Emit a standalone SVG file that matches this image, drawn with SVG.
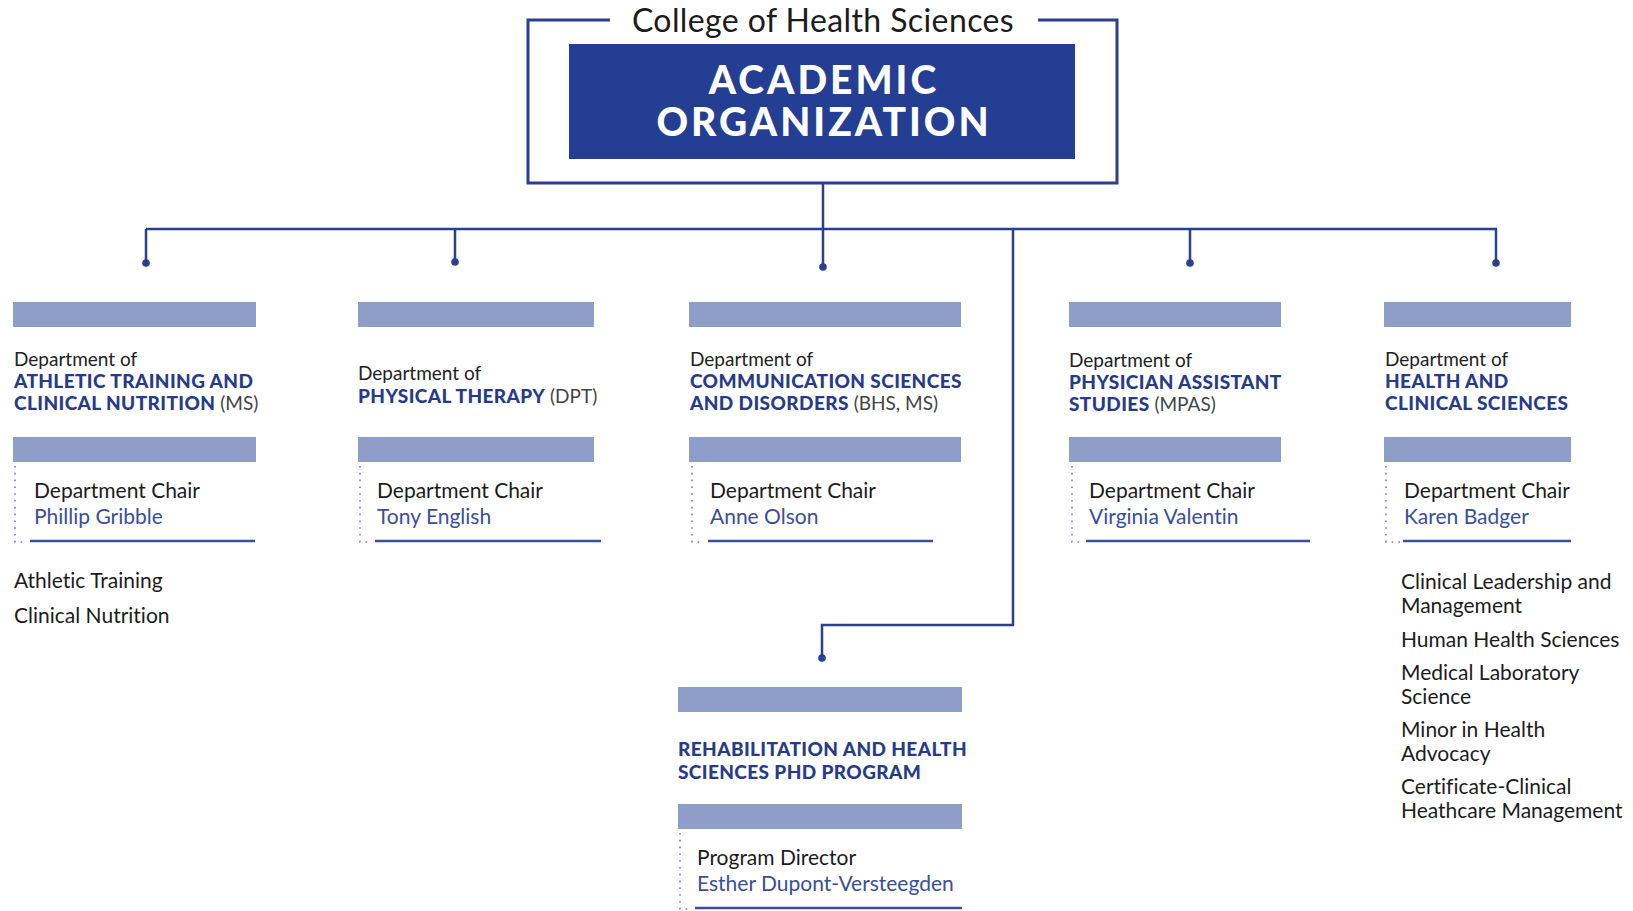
<svg xmlns="http://www.w3.org/2000/svg" width="1633" height="911" viewBox="0 0 1633 911">
<style>
.bg{fill:#ffffff}
.bar{fill:#8f9dc9}
.link{stroke:#2a3f8f;stroke-width:2.5;fill:none}
.dot{fill:#2a3f8f}
.frame{stroke:#2a3f8f;stroke-width:3;fill:none}
.dotted{stroke:#6f7fb0;stroke-width:1.6;stroke-dasharray:1.6 5.2;fill:none}
.uline{stroke:#3a4e9c;stroke-width:2.5}
text{font-family:Lato,"Liberation Sans",sans-serif;font-variant-ligatures:none;font-feature-settings:"liga" 0}
.dept{font-size:19px;fill:#222222}
.b{font-weight:900;fill:#263b8c;letter-spacing:0.4px}
.p{font-weight:400;fill:#444444;letter-spacing:0}
.role{font-size:21px;fill:#1c1c1c}
.name{font-size:21px;fill:#3a4e9c}
.item{font-size:21px;fill:#1c1c1c}
.title{font-size:32px;fill:#1c1c1c;letter-spacing:0.4px}
.big{font-size:39px;font-weight:900;fill:#ffffff;letter-spacing:3px}
</style>
<rect class="bg" x="0" y="0" width="1633" height="911"/>

<g id="header">
<path class="frame" d="M610,20 H528 V183 H1117 V20 H1038"/>
<text class="title" x="823" y="32" text-anchor="middle">College of Health Sciences</text>
<rect x="569" y="44" width="506" height="115" fill="#233e92"/>
<text class="big" x="824" y="94" text-anchor="middle">ACADEMIC</text>
<text class="big" x="824" y="136" text-anchor="middle">ORGANIZATION</text>
</g>

<g id="connectors">
<path class="link" d="M823,183 V229"/>
<path class="link" d="M146,229 H1497"/>
<path class="link" d="M146,229 V263"/>
<path class="link" d="M455,229 V262"/>
<path class="link" d="M823,229 V267"/>
<path class="link" d="M1190,229 V263"/>
<path class="link" d="M1496,229 V263"/>
<path class="link" d="M1013,229 V625 H822 V658"/>
<circle class="dot" cx="146" cy="263" r="3.8"/>
<circle class="dot" cx="455" cy="262" r="3.8"/>
<circle class="dot" cx="823" cy="267" r="3.8"/>
<circle class="dot" cx="1190" cy="263" r="3.8"/>
<circle class="dot" cx="1496" cy="263" r="3.8"/>
<circle class="dot" cx="822" cy="658" r="3.8"/>
</g>

<g id="dept-athletic">
<rect class="bar" x="13" y="302" width="243" height="25"/>
<text class="dept" x="14" y="366">Department of</text>
<text class="dept b" x="14" y="388">ATHLETIC TRAINING AND</text>
<text class="dept" x="14" y="410"><tspan class="b">CLINICAL NUTRITION</tspan><tspan class="p"> (MS)</tspan></text>
<rect class="bar" x="13" y="437" width="243" height="25"/>
<path class="dotted" d="M15,466 V542 H27"/>
<line class="uline" x1="30" y1="541" x2="255" y2="541"/>
<text class="role" x="34" y="498">Department Chair</text>
<text class="name" x="34" y="524">Phillip Gribble</text>
<text class="item" x="14" y="588">Athletic Training</text>
<text class="item" x="14" y="623">Clinical Nutrition</text>
</g>

<g id="dept-pt">
<rect class="bar" x="358" y="302" width="236" height="25"/>
<text class="dept" x="358" y="380">Department of</text>
<text class="dept" x="358" y="403"><tspan class="b">PHYSICAL THERAPY</tspan><tspan class="p"> (DPT)</tspan></text>
<rect class="bar" x="358" y="437" width="236" height="25"/>
<path class="dotted" d="M360,466 V542 H372"/>
<line class="uline" x1="375" y1="541" x2="601" y2="541"/>
<text class="role" x="377" y="498">Department Chair</text>
<text class="name" x="377" y="524">Tony English</text>
</g>

<g id="dept-csd">
<rect class="bar" x="689" y="302" width="272" height="25"/>
<text class="dept" x="690" y="366">Department of</text>
<text class="dept b" x="690" y="388">COMMUNICATION SCIENCES</text>
<text class="dept" x="690" y="410"><tspan class="b">AND DISORDERS</tspan><tspan class="p"> (BHS, MS)</tspan></text>
<rect class="bar" x="689" y="437" width="272" height="25"/>
<path class="dotted" d="M692,466 V542 H704"/>
<line class="uline" x1="708" y1="541" x2="933" y2="541"/>
<text class="role" x="710" y="498">Department Chair</text>
<text class="name" x="710" y="524">Anne Olson</text>
</g>

<g id="dept-pa">
<rect class="bar" x="1069" y="302" width="212" height="25"/>
<text class="dept" x="1069" y="367">Department of</text>
<text class="dept b" x="1069" y="389">PHYSICIAN ASSISTANT</text>
<text class="dept" x="1069" y="411"><tspan class="b">STUDIES</tspan><tspan class="p"> (MPAS)</tspan></text>
<rect class="bar" x="1069" y="437" width="212" height="25"/>
<path class="dotted" d="M1072,466 V542 H1083"/>
<line class="uline" x1="1086" y1="541" x2="1310" y2="541"/>
<text class="role" x="1089" y="498">Department Chair</text>
<text class="name" x="1089" y="524">Virginia Valentin</text>
</g>

<g id="dept-hcs">
<rect class="bar" x="1384" y="302" width="187" height="25"/>
<text class="dept" x="1385" y="366">Department of</text>
<text class="dept b" x="1385" y="388">HEALTH AND</text>
<text class="dept b" x="1385" y="410">CLINICAL SCIENCES</text>
<rect class="bar" x="1384" y="437" width="187" height="25"/>
<path class="dotted" d="M1386,466 V542 H1400"/>
<line class="uline" x1="1403" y1="541" x2="1571" y2="541"/>
<text class="role" x="1404" y="498">Department Chair</text>
<text class="name" x="1404" y="524">Karen Badger</text>
<text class="item" x="1401" y="589">Clinical Leadership and</text>
<text class="item" x="1401" y="613">Management</text>
<text class="item" x="1401" y="647">Human Health Sciences</text>
<text class="item" x="1401" y="680">Medical Laboratory</text>
<text class="item" x="1401" y="704">Science</text>
<text class="item" x="1401" y="737">Minor in Health</text>
<text class="item" x="1401" y="761">Advocacy</text>
<text class="item" x="1401" y="794">Certificate-Clinical</text>
<text class="item" x="1401" y="818">Heathcare Management</text>
</g>

<g id="phd-program">
<rect class="bar" x="678" y="687" width="284" height="25"/>
<text class="dept b" x="678" y="756">REHABILITATION AND HEALTH</text>
<text class="dept b" x="678" y="779">SCIENCES PHD PROGRAM</text>
<rect class="bar" x="678" y="804" width="284" height="25"/>
<path class="dotted" d="M680,833 V909 H692"/>
<line class="uline" x1="695" y1="908" x2="962" y2="908"/>
<text class="role" x="697" y="865">Program Director</text>
<text class="name" x="697" y="891">Esther Dupont-Versteegden</text>
</g>
</svg>
